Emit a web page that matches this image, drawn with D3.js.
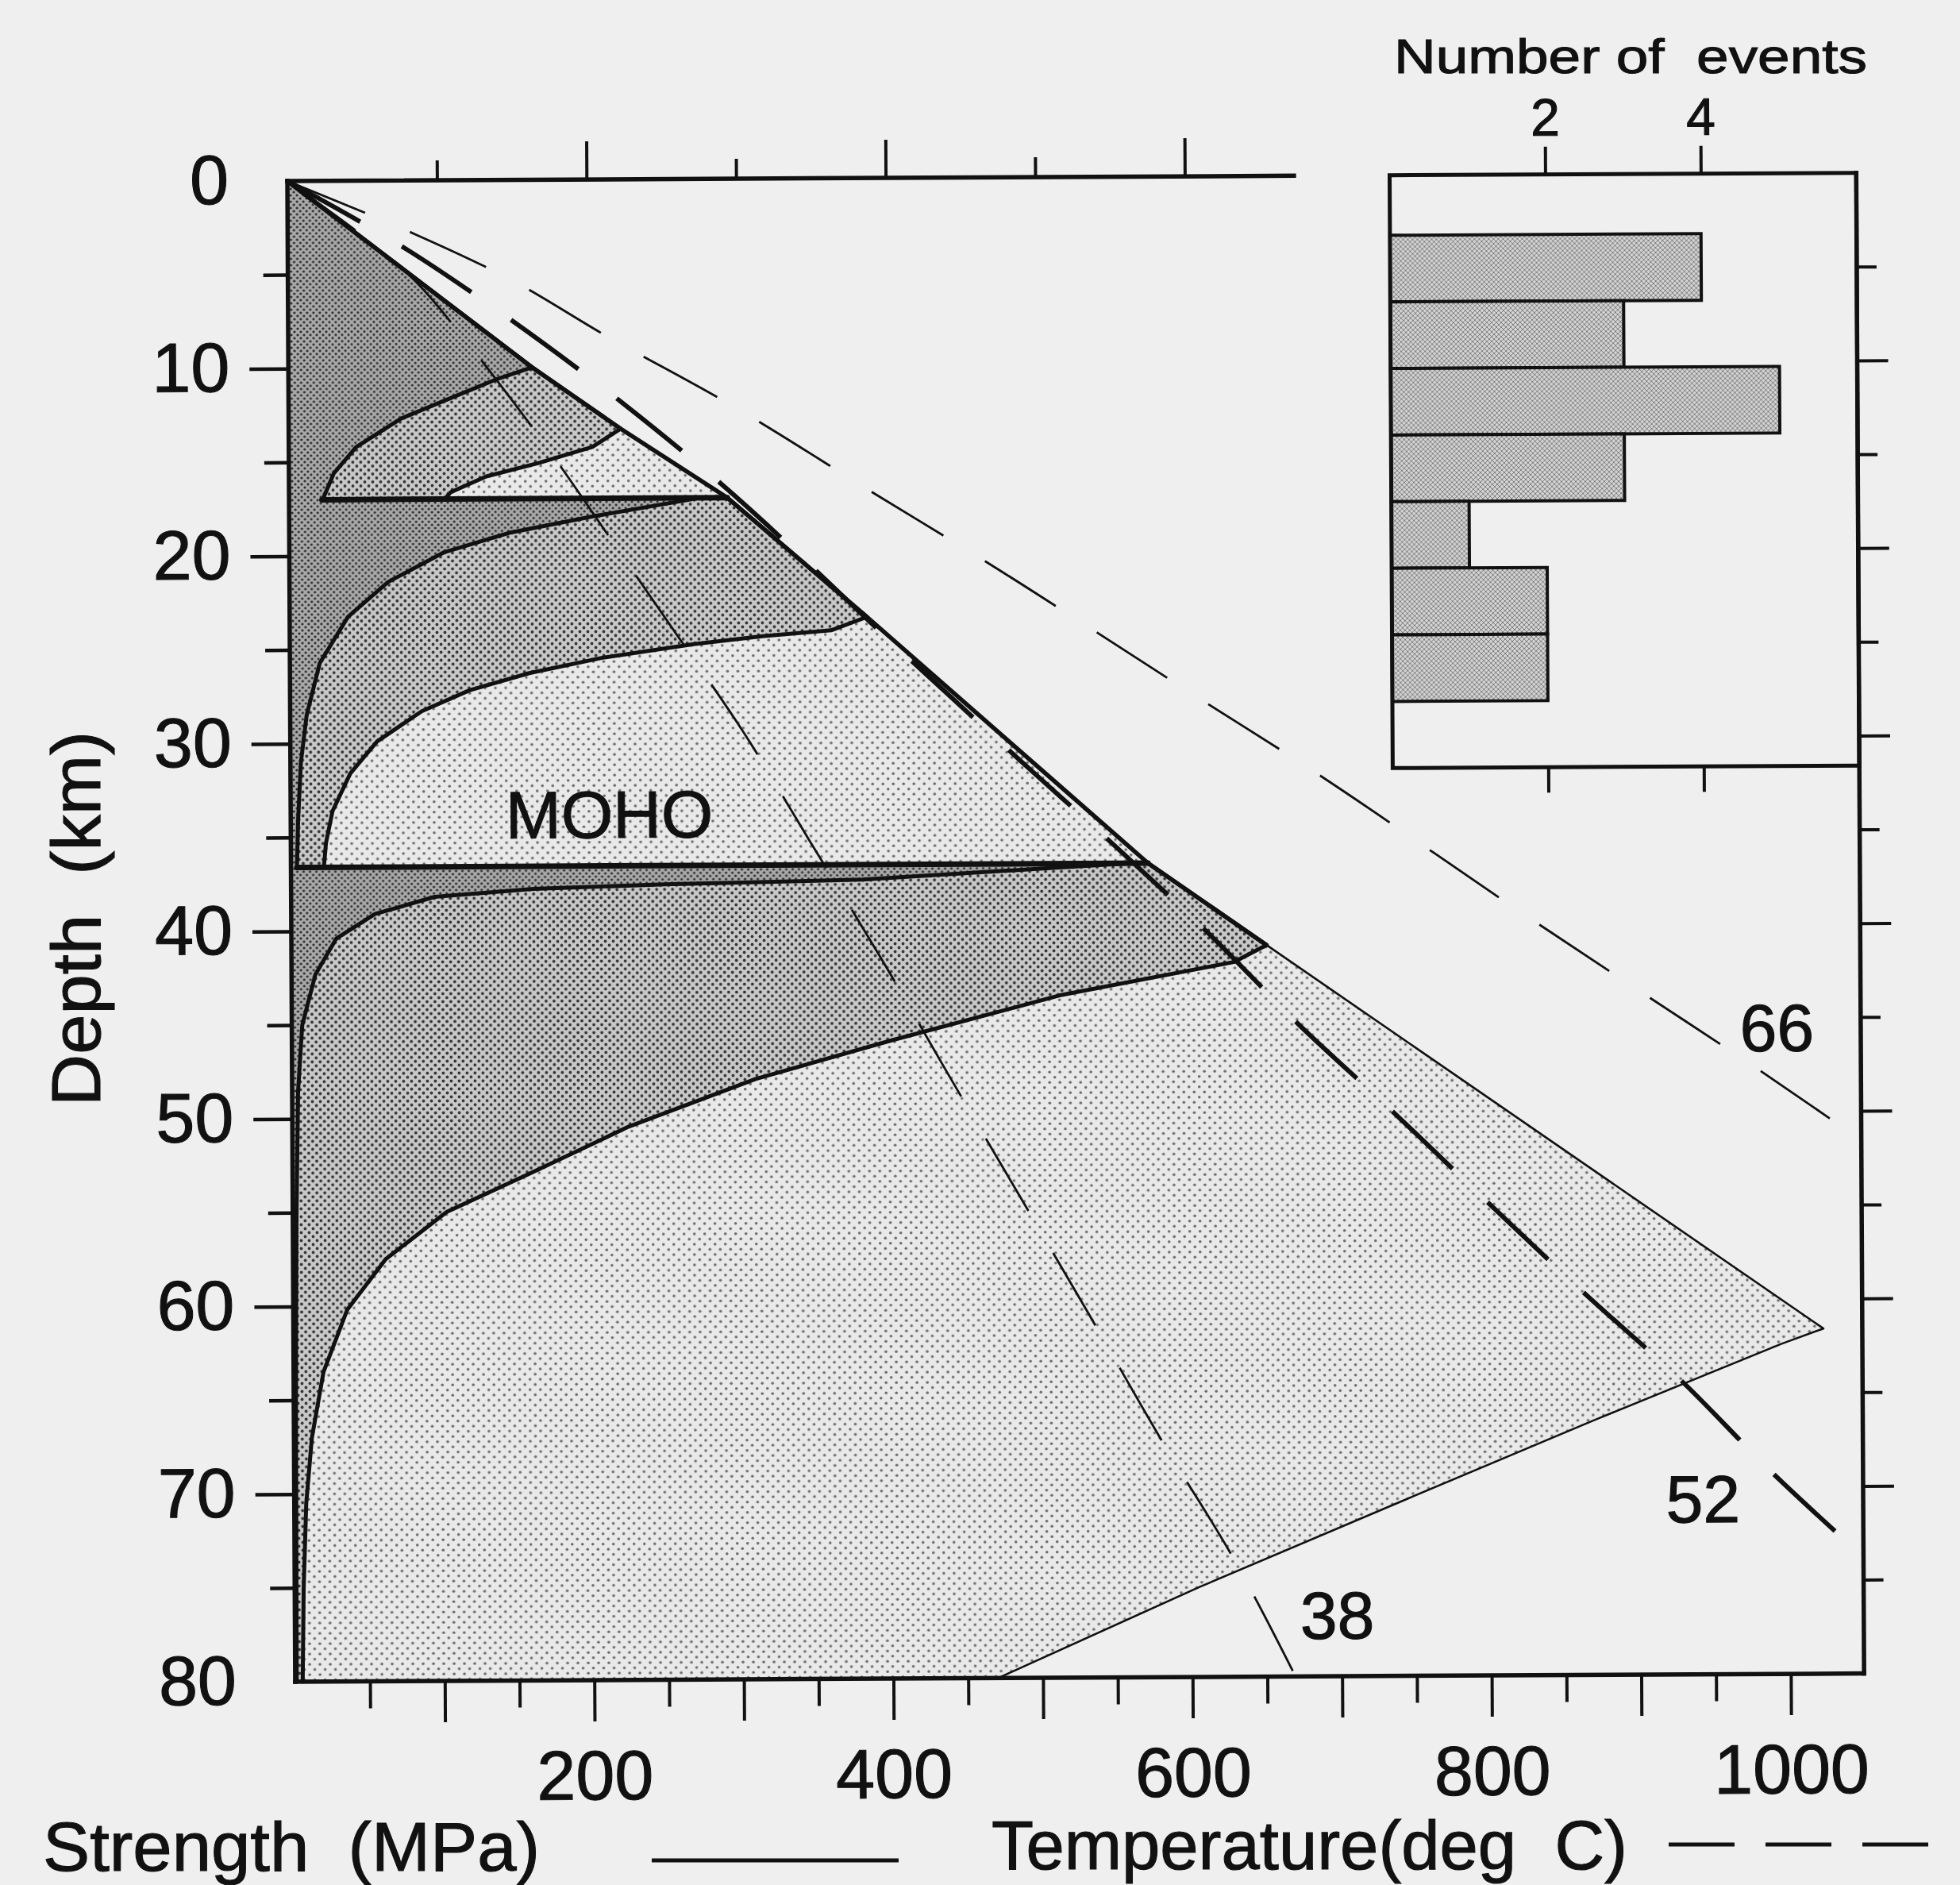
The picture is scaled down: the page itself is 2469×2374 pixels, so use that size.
<!DOCTYPE html>
<html><head><meta charset="utf-8">
<script src="https://cdn.jsdelivr.net/npm/d3@7"></script>
<style>
html,body{margin:0;padding:0;background:#efefef;}
svg{display:block;}
text{font-family:"Liberation Sans",Arial,sans-serif;fill:#111;white-space:pre;stroke:#111;stroke-width:1.1px;}
</style></head><body>
<script>
// ---------------- data (strength / temperature on x, depth km on y) ----------------
const brittle = [[0,0],[163,10],[222,13.3],[293,17],[386,23.4],[573,36.6],[652,41],[1023,61.6]];
const ductile66Upper = [[163,10],[140,10.6],[112,11.5],[75,12.7],[45,14.2],[30,15.6],[23,16.9],[22,17]];
const ductile66Lower = [[275,17],[204,17.95],[148,18.8],[103,19.85],[66,21.4],[39,23.25],[20,25.7],[11,28.5],[7,31],[5,34],[4,36.6]];
const ductile66Mantle = [[560,36.6],[382,37.4],[250,37.6],[162,37.8],[96,38.2],[56,39.1],[30,40.4],[16,42.3],[7,45],[4,48.5],[2.5,55],[1.5,65],[1,80]];
const ductile52Upper = [[222,13.3],[203,14.26],[167,15.1],[132,15.8],[108,16.64],[104,17]];
const ductile52Lower = [[386,23.4],[362,24.1],[316,24.4],[270,24.8],[209,25.5],[160,26.3],[120,27.2],[88,28.3],[58,29.9],[40,31.6],[28,33.6],[23.5,35.3],[22,36.6]];
const ductile52Mantle = [[652,41],[630,41.9],[515,43.6],[400,46.0],[310,48.0],[225,50.5],[158,53.0],[103,55.0],[62,57.5],[36,60.2],[20,63.5],[12,67],[8,70.5],[6,75],[5,80]];
const ductile38Mantle = [[1023,61.6],[995,62.4],[870,66.4],[740,70.7],[605,75.2],[470,80]];

const geo38 = [[0,0],[83,5.2],[120,8.7],[162,13.1],[228,20.7],[258,24.2],[303,29.5],[346,35.2],[395,41.7],[438,47.7],[486,54.3],[531,60.5],[584,67.9],[625,73.3],[667,79.7]];
const geo52 = [[0,0],[80,3.7],[132,6.5],[202,10.6],[269,14.9],[415,25.7],[488,31.1],[550,35.6],[615,40.5],[674,45.3],[733,49.7],[798,54.7],[864,59.7],[926,64.2],[990,69.4],[1030,72.4]];
const geo66 = [[0,0],[86,2.9],[139,4.9],[216,8.5],[288,11.7],[395,17.0],[466,20.5],[536,24.1],[615,28.2],[664,30.7],[831,39.8],[904,43.7],[981,47.8],[1028,50.4]];

const geoLabels = [{t:"66",x:993,z:46.8},{t:"52",x:942,z:71.9},{t:"38",x:697,z:78.0}];

const histEdges = [3.2,6.75,10.3,13.85,17.4,20.95,24.5,28.05];
const histCounts = [4,3,5,3,1,2,2];
const histTicks = [2,4];

const depthLabels = [0,10,20,30,40,50,60,70,80];
const depthMinorTicks = [5,15,25,35,45,55,65,75];
const rightMajorTicks = [10,20,30,40,50,60,70];
const rightMinorTicks = [5,15,25,35,45,55,65,75];
const topMajorTicks = [200,400,600];
const topMinorTicks = [100,300,500];
const bottomMajorTicks = [100,200,300,400,500,600,700,800,900,1000];
const bottomMinorTicks = [50,150,250,350,450,550,650,750,850,950];
const bottomLabels = [200,400,600,800,1000];

// ---------------- layout ----------------
const W = 2469, H = 2374;
const xRight = 1049, topEnd = 673, mohoDepth = 36.6, crustBoundary = 17, histBottom = 31.6, histLeft = 737;

const svg = d3.select("body").append("svg").attr("width", W).attr("height", H);
svg.append("rect").attr("width", W).attr("height", H).attr("fill", "#efefef");
const defs = svg.append("defs");
function dotPattern(id, size, bg, dot, r) {
  const p = defs.append("pattern").attr("id", id).attr("patternUnits", "userSpaceOnUse")
    .attr("width", size).attr("height", size);
  p.append("rect").attr("width", size).attr("height", size).attr("fill", bg);
  p.append("circle").attr("cx", size/4).attr("cy", size/4).attr("r", r).attr("fill", dot);
  p.append("circle").attr("cx", 3*size/4).attr("cy", 3*size/4).attr("r", r).attr("fill", dot);
}
dotPattern("pDark", 8, "#a9a9a9", "#2a2a2a", 1.6);
dotPattern("pMed", 10, "#c9c9c9", "#333333", 1.9);
dotPattern("pLight", 13, "#e9e9e9", "#6c6c6c", 1.8);
const hp = defs.append("pattern").attr("id", "pHatch").attr("patternUnits", "userSpaceOnUse").attr("width", 6).attr("height", 6);
hp.append("rect").attr("width", 6).attr("height", 6).attr("fill", "#d4d4d4");
hp.append("path").attr("d", "M0,6L6,0M0,0L6,6").attr("stroke", "#707070").attr("stroke-width", 0.9);

const x = d3.scaleLinear().domain([0, 1000]).range([362, 2246]);
const y = d3.scaleLinear().domain([0, 80]).range([228, 2118]);
const xh = d3.scaleLinear().domain([0, 6]).range([x(histLeft), x(xRight)]);

const g = svg.append("g").attr("transform", "rotate(-0.3,362,228)");
const line = d3.line().x(d => x(d[0])).y(d => y(d[1]));
const smooth = d3.line().x(d => x(d[0])).y(d => y(d[1])).curve(d3.curveMonotoneY);

const within = (a, b) => brittle.filter(d => d[1] >= a && d[1] <= b);
const env38 = brittle.concat(ductile38Mantle.slice(1));
const env52 = within(0, 13.3).concat(ductile52Upper.slice(1), within(crustBoundary, 23.4), ductile52Lower.slice(1),
  within(mohoDepth, 41), ductile52Mantle.slice(1));
const env66 = within(0, 10).concat(ductile66Upper.slice(1), ductile66Lower, ductile66Mantle);
const close = e => e.concat([[0, 80], [0, 0]]);

// fills
g.append("path").attr("d", line(close(env38)) + "Z").attr("fill", "url(#pLight)");
g.append("path").attr("d", line(close(env52)) + "Z").attr("fill", "url(#pMed)");
g.append("path").attr("d", line(close(env66)) + "Z").attr("fill", "url(#pDark)");

// outlines
const st = (sel, w) => sel.attr("fill", "none").attr("stroke", "#111").attr("stroke-width", w)
  .attr("stroke-linejoin", "round").attr("stroke-linecap", "round");
st(g.append("path").attr("d", line(brittle.filter(d => d[1] >= 41).concat(ductile38Mantle.slice(1)))), 2.6);
st(g.append("path").attr("d", line(within(0, 41))), 5.5);
st(g.append("path").attr("d", line(env52)), 5);
st(g.append("path").attr("d", line(env66)), 5);
// the two rheology boundaries (jumps) drawn bold
const jumps = [
  [ductile66Upper[ductile66Upper.length - 1], within(crustBoundary, crustBoundary)[0]],
  [ductile66Lower[ductile66Lower.length - 1], within(mohoDepth, mohoDepth)[0]]
];
jumps.forEach(j => st(g.append("path").attr("d", line(j)), 7));

// geotherms: dash pattern stretched so that a dash starts and ends the line
const DASH = 103, GAP = 60;
function dashed(data, w) {
  const p = st(g.append("path").attr("d", smooth(data)), w).attr("stroke-linecap", "butt");
  const L = p.node().getTotalLength();
  const n = Math.max(1, Math.round((L - DASH) / (DASH + GAP)));
  const s = L / (n * (DASH + GAP) + DASH);
  p.attr("stroke-dasharray", `${DASH * s},${GAP * s}`).attr("stroke-dashoffset", 0);
}
dashed(geo38, 2.8);
dashed(geo66, 2.8);
dashed(geo52, 5.8);

g.selectAll("text.geo").data(geoLabels).join("text").attr("class", "geo")
  .attr("x", d => x(d.x)).attr("y", d => y(d.z)).attr("text-anchor", "middle")
  .attr("font-size", 84).text(d => d.t);
g.append("text").attr("x", x(213)).attr("y", y(35.1)).attr("text-anchor", "middle")
  .attr("font-size", 84).text("MOHO");

// histogram
g.selectAll("rect.bar").data(histCounts).join("rect").attr("class", "bar")
  .attr("x", xh(0)).attr("y", (d, i) => y(histEdges[i]))
  .attr("width", d => xh(d) - xh(0)).attr("height", (d, i) => y(histEdges[i + 1]) - y(histEdges[i]))
  .attr("fill", "url(#pHatch)").attr("stroke", "#111").attr("stroke-width", 4);
g.append("rect").attr("x", xh(0)).attr("y", y(0)).attr("width", xh(6) - xh(0)).attr("height", y(histBottom) - y(0))
  .attr("fill", "none").attr("stroke", "#111").attr("stroke-width", 5);

function styleAxis(sel, fs, w) {
  sel.select(".domain").remove();
  sel.selectAll(".tick line").attr("stroke", "#111").attr("stroke-width", w);
  sel.selectAll(".tick text").attr("font-size", fs).attr("fill", "#111")
    .attr("font-family", '"Liberation Sans",Arial,sans-serif');
  return sel;
}
styleAxis(g.append("g").attr("transform", `translate(0,${y(0)})`)
  .call(d3.axisTop(xh).tickValues(histTicks).tickSize(35).tickPadding(14).tickFormat(d3.format("d"))), 66, 4);
styleAxis(g.append("g").attr("transform", `translate(0,${y(histBottom)})`)
  .call(d3.axisBottom(xh).tickValues(histTicks).tickSize(32).tickFormat("")), 66, 4);

// main axes
const ax = [[x(0), y(0), x(0), y(80)], [x(0), y(0), x(topEnd), y(0)], [x(0), y(80), x(xRight), y(80)], [x(xRight), y(0), x(xRight), y(80)]];
g.selectAll("line.ax").data(ax).join("line").attr("class", "ax")
  .attr("x1", d => d[0]).attr("y1", d => d[1]).attr("x2", d => d[2]).attr("y2", d => d[3])
  .attr("stroke", "#111").attr("stroke-width", 5.5).attr("stroke-linecap", "square");

const left = styleAxis(g.append("g").attr("transform", `translate(${x(0)},0)`)
  .call(d3.axisLeft(y).tickValues(depthLabels).tickSize(49).tickPadding(25).tickFormat(d3.format("d"))), 88, 4.5);
left.selectAll(".tick line").filter(d => d === 0 || d === 80).remove();
styleAxis(g.append("g").attr("transform", `translate(${x(0)},0)`)
  .call(d3.axisLeft(y).tickValues(depthMinorTicks).tickSize(31).tickFormat("")), 88, 4.5);

styleAxis(g.append("g").attr("transform", `translate(${x(xRight)},0)`)
  .call(d3.axisRight(y).tickValues(rightMajorTicks).tickSize(39).tickFormat("")), 88, 4);
styleAxis(g.append("g").attr("transform", `translate(${x(xRight)},0)`)
  .call(d3.axisRight(y).tickValues(rightMinorTicks).tickSize(25).tickFormat("")), 88, 4);

styleAxis(g.append("g").attr("transform", `translate(0,${y(0)})`)
  .call(d3.axisTop(x).tickValues(topMajorTicks).tickSize(48).tickFormat("")), 88, 4);
styleAxis(g.append("g").attr("transform", `translate(0,${y(0)})`)
  .call(d3.axisTop(x).tickValues(topMinorTicks).tickSize(25).tickFormat("")), 88, 4);

styleAxis(g.append("g").attr("transform", `translate(0,${y(80)})`)
  .call(d3.axisBottom(x).tickValues(bottomMajorTicks).tickSize(52).tickPadding(36)
    .tickFormat(d => bottomLabels.includes(d) ? String(d) : "")), 88, 4);
styleAxis(g.append("g").attr("transform", `translate(0,${y(80)})`)
  .call(d3.axisBottom(x).tickValues(bottomMinorTicks).tickSize(34).tickFormat("")), 88, 4);

// titles and legend
svg.append("text").attr("transform", "translate(126,1393) rotate(-90)").attr("font-size", 88)
  .attr("textLength", 472).attr("lengthAdjust", "spacingAndGlyphs").text("Depth  (km)");
svg.append("text").attr("x", 1756).attr("y", 92).attr("font-size", 62)
  .attr("textLength", 596).attr("lengthAdjust", "spacingAndGlyphs").text("Number of  events");
svg.append("text").attr("x", 54).attr("y", 2356).attr("font-size", 88)
  .attr("textLength", 626).attr("lengthAdjust", "spacingAndGlyphs").text("Strength  (MPa)");
svg.append("line").attr("x1", 821).attr("x2", 1132).attr("y1", 2343).attr("y2", 2343)
  .attr("stroke", "#111").attr("stroke-width", 5);
svg.append("text").attr("x", 1249).attr("y", 2354).attr("font-size", 88)
  .attr("textLength", 801).attr("lengthAdjust", "spacingAndGlyphs").text("Temperature(deg  C)");
svg.append("line").attr("x1", 2102).attr("x2", 2434).attr("y1", 2323).attr("y2", 2323)
  .attr("stroke", "#111").attr("stroke-width", 5).attr("stroke-dasharray", "83,39");
</script>
</body></html>
